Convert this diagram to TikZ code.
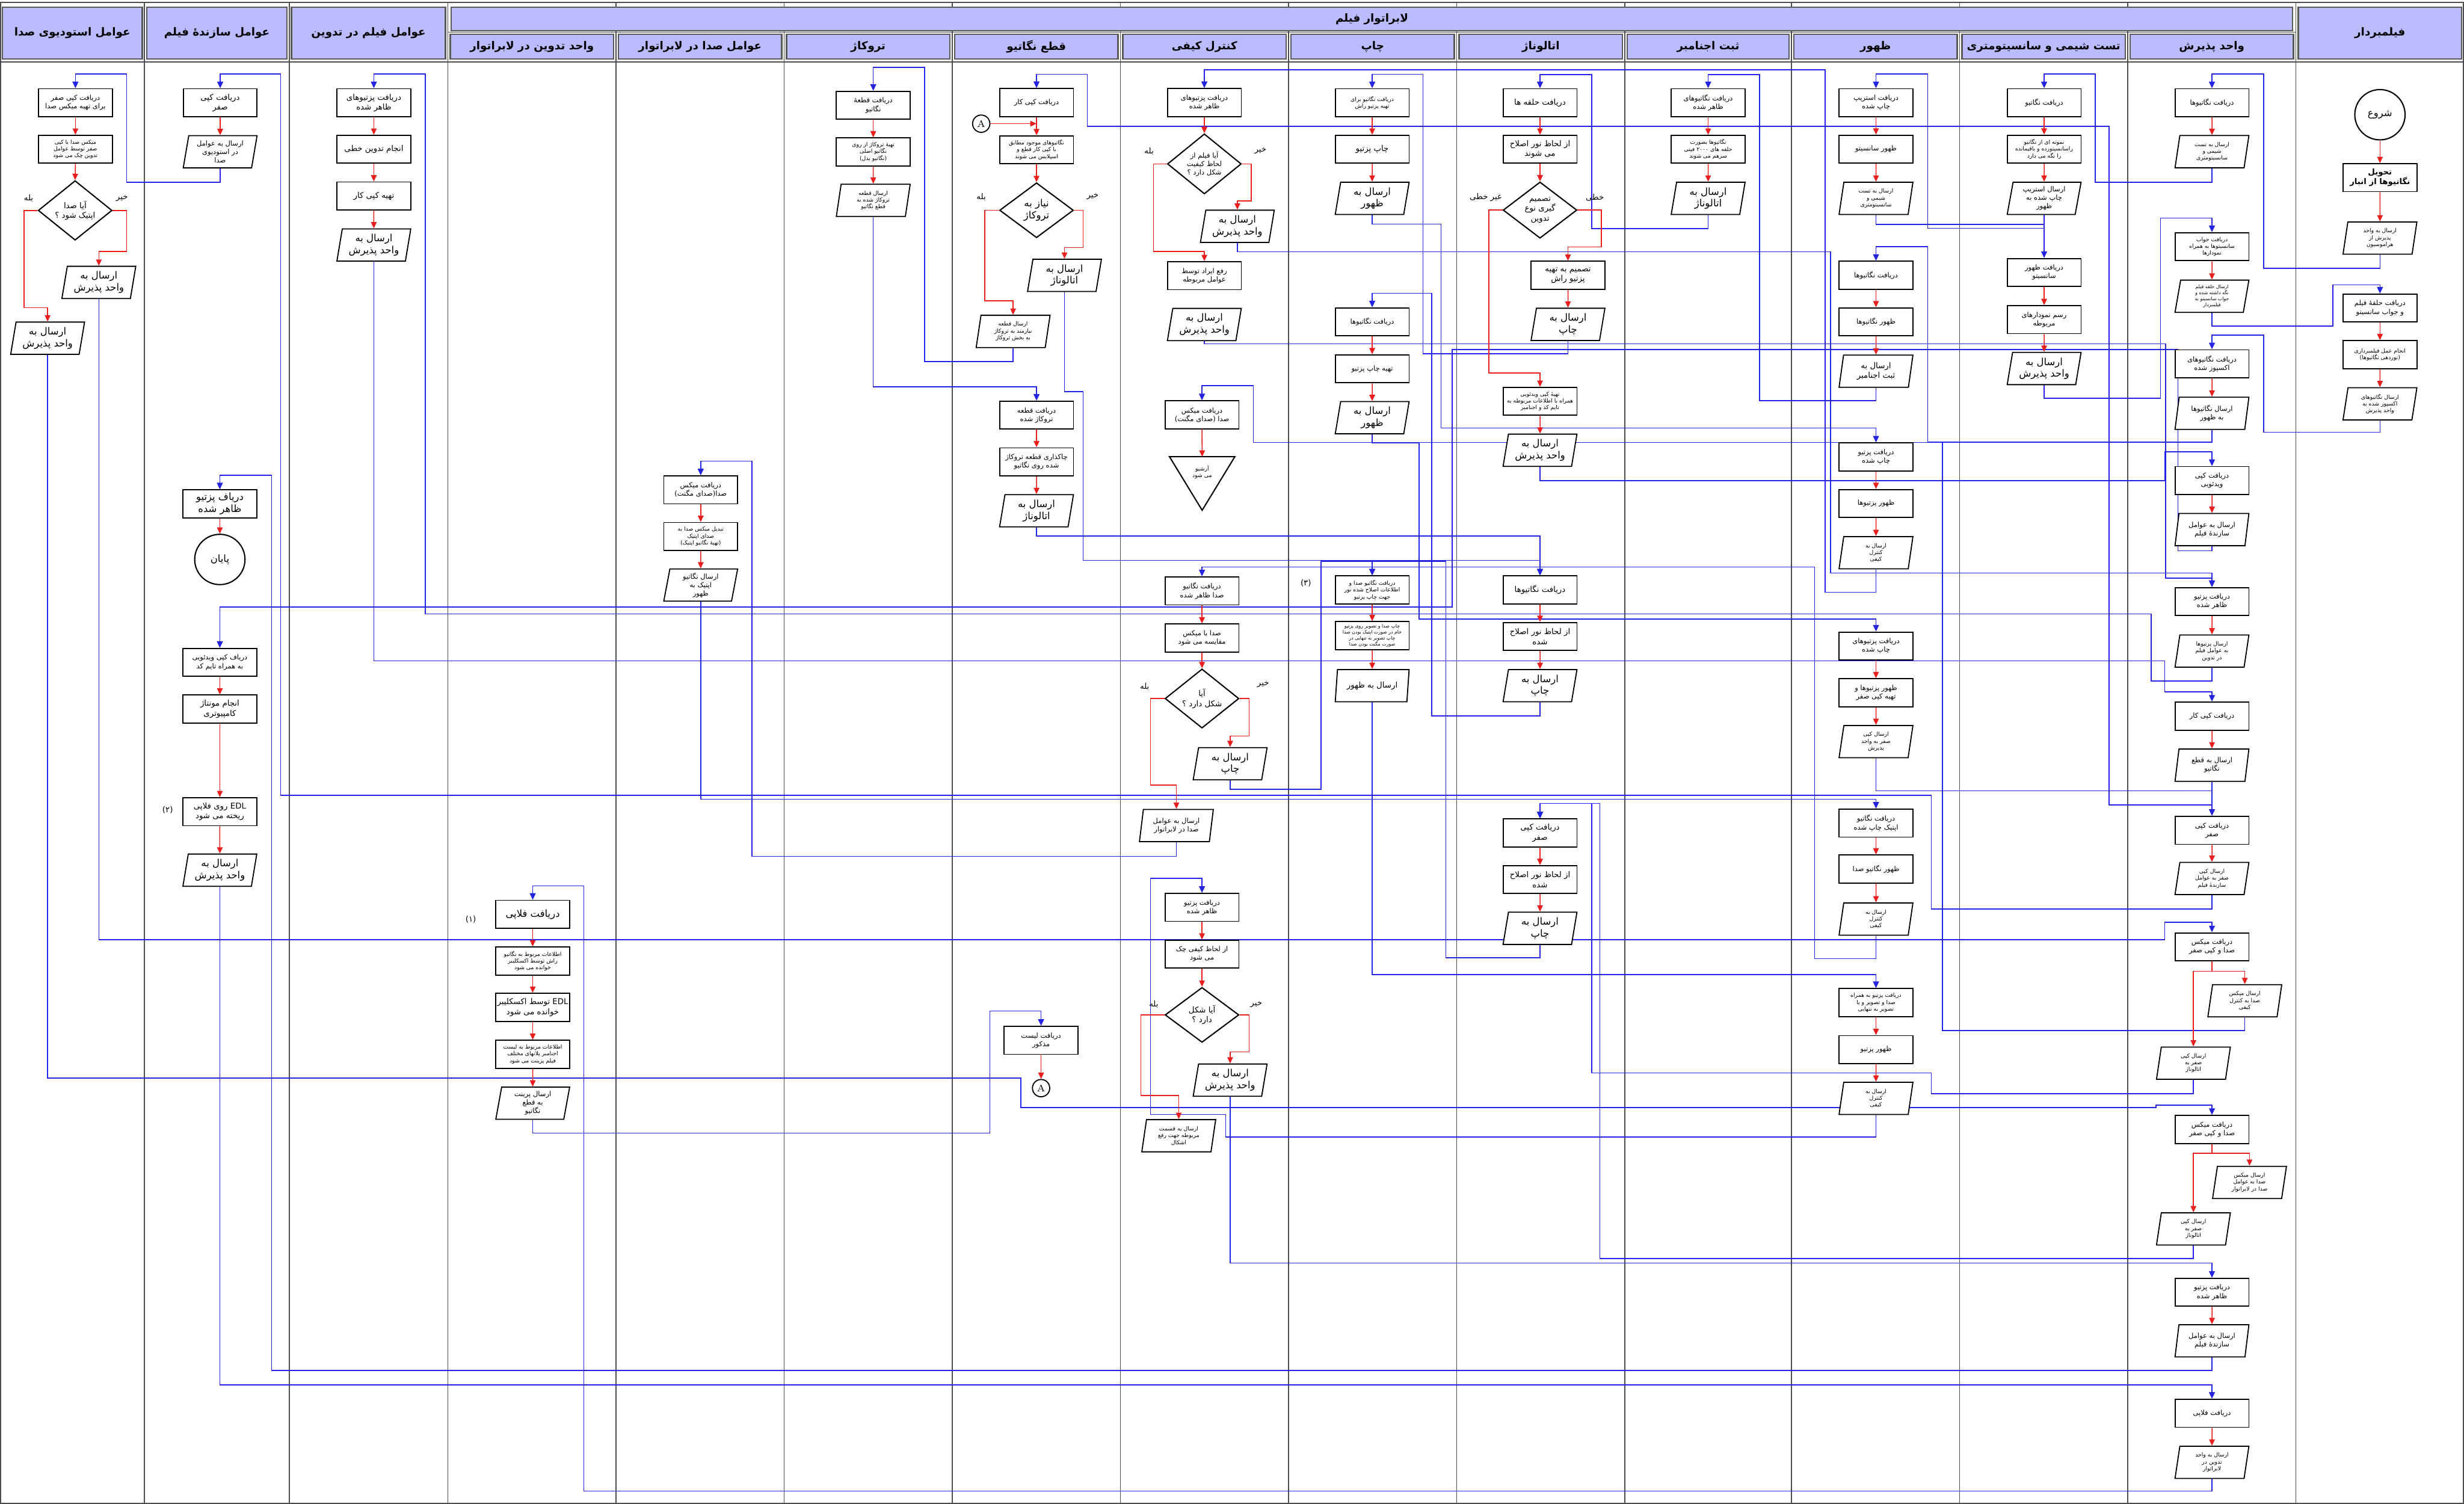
\documentclass[tikz,border=0pt]{standalone}
\usepackage{fontspec}
\newfontfamily\farsi[Script=Arabic]{DejaVu Sans}
\TeXXeTstate=1
\usetikzlibrary{shapes.geometric,arrows.meta,calc}
\newcommand\Rt[1]{\beginR #1\endR}
\newcommand\szH{\fontsize{7}{8.4}\selectfont}
\newcommand\szB{\fontsize{6.3}{7.5}\selectfont}
\newcommand\szM{\fontsize{5.1}{6.3}\selectfont}
\newcommand\szS{\fontsize{4.4}{5.4}\selectfont}
\newcommand\szT{\fontsize{3.55}{4.35}\selectfont}
\newcommand\szX{\fontsize{3}{3.8}\selectfont}
\definecolor{lav}{RGB}{187,187,255}
\definecolor{lblue}{RGB}{35,35,225}
\definecolor{lred}{RGB}{235,30,30}
\pgfdeclarelayer{back}
\pgfdeclarelayer{bg}
\pgfsetlayers{back,bg,main}
\newcommand\fl[4][9]{\draw[bl] (#2.south) #3 |- ($(#4.north)+(0,-#1)$) -- (#4.north);}
\newcommand\rarr[2]{\draw[rd] (#1.south) -- (#2.north);}
\begin{document}
\begin{tikzpicture}[x=1pt,y=-1pt,
  bx/.style={draw, line width=0.7pt, fill=white, minimum width=47pt, minimum height=17.8pt, inner sep=0.5pt, align=center, font=\farsi\szM},
  io/.style={draw, line width=0.7pt, fill=white, trapezium, trapezium left angle=77, trapezium right angle=103, trapezium stretches body, minimum width=47pt, minimum height=20.5pt, inner sep=0.5pt, align=center, font=\farsi\szM},
  dec/.style={draw, line width=0.8pt, fill=white, diamond, minimum width=47pt, minimum height=35pt, inner sep=0pt, align=center, font=\farsi\szM},
  circ/.style={draw, line width=0.8pt, fill=white, circle, minimum size=32pt, inner sep=0pt, font=\farsi\szB},
  acirc/.style={draw, line width=0.7pt, fill=white, circle, minimum size=11pt, inner sep=0pt, font=\rmfamily\fontsize{6}{7}\selectfont},
  lab/.style={inner sep=0pt, font=\farsi\szM},
  hdr/.style={draw=black!65, line width=0.9pt, fill=lav, inner sep=0pt, font=\farsi\bfseries\szH},
  sep/.style={draw=black!70, line width=0.7pt},
  rd/.style={draw=lred, line width=0.6pt, -{Triangle[length=4pt,width=3.6pt]}},
  bl/.style={draw=lblue, line width=0.6pt, -{Triangle[length=4.2pt,width=3.8pt]}}
]
\useasboundingbox (0,0) rectangle (1568,957);
\begin{pgfonlayer}{back}
\fill[white] (0,0) rectangle (1568,957);
\draw[sep] (0.5,1.5) rectangle (1567.5,956.5);
\draw[sep] (0,39.5) -- (1568,39.5);
\draw[sep] (285,20.5) -- (1461,20.5);
\foreach \xx in {92,184,285,392,499,606,713,820,927,1034,1140,1247,1354,1461}
  \draw[sep] (\xx,1.5) -- (\xx,956.5);
\end{pgfonlayer}

% headers
\node[hdr, minimum width=89pt, minimum height=33pt] (hU) at (46,21) {\Rt{عوامل استودیوی صدا}};
\node[hdr, minimum width=89pt, minimum height=33pt] (hM) at (138,21) {\Rt{عوامل سازندهٔ فیلم}};
\node[hdr, minimum width=98pt, minimum height=33pt] (hD) at (234.5,21) {\Rt{عوامل فیلم در تدوین}};
\node[hdr, minimum width=104pt, minimum height=33pt] (hF) at (1514.5,21) {\Rt{فیلمبردار}};
\node[hdr, minimum width=1172pt, minimum height=15pt] (hLab) at (873,12) {\Rt{لابراتوار فیلم}};
\node[hdr, minimum width=104pt, minimum height=15.7pt] (hE) at (338.5,29.6) {\Rt{واحد تدوین در لابراتوار}};
\node[hdr, minimum width=104pt, minimum height=15.7pt] (hL) at (445.5,29.6) {\Rt{عوامل صدا در لابراتوار}};
\node[hdr, minimum width=104pt, minimum height=15.7pt] (hR) at (552.5,29.6) {\Rt{تروکاژ}};
\node[hdr, minimum width=104pt, minimum height=15.7pt] (hQ) at (659.5,29.6) {\Rt{قطع نگاتیو}};
\node[hdr, minimum width=104pt, minimum height=15.7pt] (hK) at (766.5,29.6) {\Rt{کنترل کیفی}};
\node[hdr, minimum width=104pt, minimum height=15.7pt] (hC) at (873.5,29.6) {\Rt{چاپ}};
\node[hdr, minimum width=104pt, minimum height=15.7pt] (hA) at (980.5,29.6) {\Rt{اتالوناژ}};
\node[hdr, minimum width=103pt, minimum height=15.7pt] (hS) at (1087,29.6) {\Rt{ثبت اجنامبر}};
\node[hdr, minimum width=104pt, minimum height=15.7pt] (hZ) at (1193.5,29.6) {\Rt{ظهور}};
\node[hdr, minimum width=104pt, minimum height=15.7pt] (hT) at (1300.5,29.6) {\Rt{تست شیمی و سانسیتومتری}};
\node[hdr, minimum width=104pt, minimum height=15.7pt] (hP) at (1407.5,29.6) {\Rt{واحد پذیرش}};

% ===== column U: studio
\node[bx,font=\farsi\szS] (U1) at (48,65.4) {\Rt{دریافت کپی صفر}\\\Rt{برای تهیه میکس صدا}};
\node[bx,font=\farsi\szT] (U2) at (48,95) {\Rt{میکس صدا با کپی}\\\Rt{صفر توسط عوامل}\\\Rt{تدوین چک می شود}};
\node[dec] (U3) at (47.8,133.9) {\Rt{آیا صدا}\\\Rt{اپتیک شود ؟}};
\node[io,font=\farsi\szB] (U4) at (62.9,179.7) {\Rt{ارسال به}\\\Rt{واحد پذیرش}};
\node[io,font=\farsi\szB] (U5) at (30.3,215.2) {\Rt{ارسال به}\\\Rt{واحد پذیرش}};
\node[lab] (lU1) at (18.2,126) {\Rt{بله}};
\node[lab] (lU2) at (77.6,126) {\Rt{خیر}};

% ===== column M: film makers
\node[bx] (M1) at (140.1,65.4) {\Rt{دریافت کپی}\\\Rt{صفر}};
\node[io,font=\farsi\szS] (M2) at (140.1,96.6) {\Rt{ارسال به عوامل}\\\Rt{در استودیوی}\\\Rt{صدا}};
\node[bx,font=\farsi\szB] (M3) at (139.9,320.6) {\Rt{دریاف پزتیو}\\\Rt{ظاهر شده}};
\node[circ] (M4) at (139.9,356) {\Rt{پایان}};
\node[bx,font=\farsi\szS] (M5) at (139.9,421.5) {\Rt{دریاف کپی ویدئویی}\\\Rt{به همراه تایم کد}};
\node[bx] (M6) at (139.9,451.2) {\Rt{انجام مونتاژ}\\\Rt{کامپیوتری}};
\node[bx] (M7) at (139.9,516.5) {\Rt{\beginL EDL\endL{} روی فلاپی}\\\Rt{ریخته می شود}};
\node[lab] (lM7) at (106.7,515.4) {(۲)};
\node[io,font=\farsi\szB] (M8) at (139.9,553.7) {\Rt{ارسال به}\\\Rt{واحد پذیرش}};

% ===== column D: editors
\node[bx] (D1) at (237.9,65.4) {\Rt{دریافت پزتیوهای}\\\Rt{ظاهر شده}};
\node[bx] (D2) at (237.9,95) {\Rt{انجام تدوین خطی}};
\node[bx] (D3) at (237.9,124.7) {\Rt{تهیه کپی کار}};
\node[io,font=\farsi\szB] (D4) at (237.9,155.9) {\Rt{ارسال به}\\\Rt{واحد پذیرش}};

% ===== column E: lab editing
\node[bx,font=\farsi\szB] (E1) at (339,581.8) {\Rt{دریافت فلاپی}};
\node[lab] (lE1) at (299.6,585.1) {(۱)};
\node[bx,font=\farsi\szT] (E2) at (339,611.5) {\Rt{اطلاعات مربوط به نگاتیو}\\\Rt{راش توسط اکسکلیبر}\\\Rt{خوانده می شود}};
\node[bx] (E3) at (339,641) {\Rt{\beginL EDL\endL{} توسط اکسکلیبر}\\\Rt{خوانده می شود}};
\node[bx,font=\farsi\szT] (E4) at (339,670.9) {\Rt{اطلاعات مربوط به لیست}\\\Rt{اجنامبر پلانهای مختلف}\\\Rt{فیلم پرینت می شود}};
\node[io,font=\farsi\szS] (E5) at (339,702) {\Rt{ارسال پرینت}\\\Rt{به قطع}\\\Rt{نگاتیو}};

% ===== column L: lab sound
\node[bx,font=\farsi\szS] (L1) at (445.9,311.7) {\Rt{دریافت میکس}\\\Rt{صدا(صدای مگنت)}};
\node[bx,font=\farsi\szT] (L2) at (445.9,341.4) {\Rt{تبدیل میکس صدا به}\\\Rt{صدای اپتیک}\\\Rt{(تهیهٔ نگاتیو اپتیک)}};
\node[io,font=\farsi\szS] (L3) at (445.9,372.3) {\Rt{ارسال نگاتیو}\\\Rt{اپتیک به}\\\Rt{ظهور}};

% ===== column R: trucage
\node[bx,font=\farsi\szS] (R1) at (555.7,67) {\Rt{دریافت قطعهٔ}\\\Rt{نگاتیو}};
\node[bx,font=\farsi\szT] (R2) at (555.7,96.7) {\Rt{تهیهٔ تروکاژ از روی}\\\Rt{نگاتیو اصلی}\\\Rt{(نگاتیو بدل)}};
\node[io,font=\farsi\szT] (R3) at (555.7,127.5) {\Rt{ارسال قطعه}\\\Rt{تروکاژ شده به}\\\Rt{قطع نگاتیو}};

% ===== column Q: negative cutting
\node[bx,font=\farsi\szS] (Q1) at (659.6,65.3) {\Rt{دریافت کپی کار}};
\node[acirc] (QA) at (624.4,78.7) {A};
\node[bx,font=\farsi\szT] (Q2) at (659.6,95.3) {\Rt{نگاتیوهای موجود مطابق}\\\Rt{با کپی کار قطع و}\\\Rt{اسپلایس می شوند}};
\node[dec,font=\farsi\szB] (Q3) at (659.6,133.8) {\Rt{نیاز به}\\\Rt{تروکاژ}};
\node[lab] (lQ1) at (624.4,125.2) {\Rt{بله}};
\node[lab] (lQ2) at (695.3,125.2) {\Rt{خیر}};
\node[io,font=\farsi\szB] (Q4) at (677.4,175.2) {\Rt{ارسال به}\\\Rt{اتالوناژ}};
\node[io,font=\farsi\szT] (Q5) at (644.7,210.9) {\Rt{ارسال قطعه}\\\Rt{نیازمند به تروکاژ}\\\Rt{به بخش تروکاژ}};
\node[bx,font=\farsi\szS] (Q6) at (659.6,264.2) {\Rt{دریافت قطعه}\\\Rt{تروکاژ شده}};
\node[bx,font=\farsi\szS] (Q7) at (659.6,293.9) {\Rt{چاکذاری قطعه تروکاژ}\\\Rt{شده روی نگاتیو}};
\node[io,font=\farsi\szB] (Q8) at (659.6,325) {\Rt{ارسال به}\\\Rt{اتالوناژ}};
\node[bx,font=\farsi\szS] (Q9) at (662.5,662) {\Rt{دریافت لیست}\\\Rt{مذکور}};
\node[acirc] (QA2) at (662.5,692.4) {A};

% ===== column K: quality control
\node[bx,font=\farsi\szS] (K1) at (766.4,65.3) {\Rt{دریافت پزتیوهای}\\\Rt{ظاهر شده}};
\node[dec,font=\farsi\szS] (K2) at (766.4,104.3) {\Rt{آیا فیلم از}\\\Rt{لحاظ کیفیت}\\\Rt{شکل دارد ؟}};
\node[lab] (lK1) at (731.2,96.1) {\Rt{بله}};
\node[lab] (lK2) at (802.1,96.1) {\Rt{خیر}};
\node[io,font=\farsi\szB] (K3) at (787.4,144) {\Rt{ارسال به}\\\Rt{واحد پذیرش}};
\node[bx,font=\farsi\szS] (K4) at (766.4,175.4) {\Rt{رفع ایراد توسط}\\\Rt{عوامل مربوطه}};
\node[io,font=\farsi\szB] (K5) at (766.4,206.5) {\Rt{ارسال به}\\\Rt{واحد پذیرش}};
\node[bx,font=\farsi\szS] (K6) at (764.9,264) {\Rt{دریافت میکس}\\\Rt{صدا (صدای مگنت)}};
\coordinate (K7) at (765,290.6);
\draw[line width=0.8pt, fill=white] (744.2,290.6) -- (785.8,290.6) -- (765,324.7) -- cycle;
\node[font=\farsi\szT, align=center, inner sep=0pt] (K7t) at (765,300.5) {\Rt{آرشیو}\\\Rt{می شود}};
\node[bx,font=\farsi\szS] (K8) at (764.9,376) {\Rt{دریافت نگاتیو}\\\Rt{صدا ظاهر شده}};
\node[bx,font=\farsi\szS] (K9) at (764.9,406) {\Rt{صدا با میکس}\\\Rt{مقایسه می شود}};
\node[dec] (K10) at (764.9,444.5) {\Rt{آیا}\\\Rt{شکل دارد ؟}};
\node[lab] (lK3) at (728.4,437.1) {\Rt{بله}};
\node[lab] (lK4) at (803.8,435.3) {\Rt{خیر}};
\node[io,font=\farsi\szB] (K11) at (782.8,486) {\Rt{ارسال به}\\\Rt{چاپ}};
\node[io,font=\farsi\szS] (K12) at (748.6,525.3) {\Rt{ارسال به عوامل}\\\Rt{صدا در لابراتوار}};
\node[bx,font=\farsi\szS] (K13) at (764.9,577.4) {\Rt{دریافت پزتیو}\\\Rt{ظاهر شده}};
\node[bx,font=\farsi\szS] (K14) at (764.9,607.1) {\Rt{از لحاظ کیفی چک}\\\Rt{می شود}};
\node[dec] (K15) at (764.9,645.8) {\Rt{آیا شکل}\\\Rt{دارد ؟}};
\node[lab] (lK5) at (734.2,639) {\Rt{بله}};
\node[lab] (lK6) at (799.4,639) {\Rt{خیر}};
\node[io,font=\farsi\szB] (K16) at (782.8,687.3) {\Rt{ارسال به}\\\Rt{واحد پذیرش}};
\node[io,font=\farsi\szT] (K17) at (750.1,722.7) {\Rt{ارسال به قسمت}\\\Rt{مربوطه جهت رفع}\\\Rt{اشکال}};

% ===== column C: printing
\node[bx,font=\farsi\szT] (C1) at (873.2,65.4) {\Rt{دریافت نگاتیو برای}\\\Rt{تهیه پزتیو راش}};
\node[bx] (C2) at (873.2,95) {\Rt{چاپ پزتیو}};
\node[io,font=\farsi\szB] (C3) at (873.2,126.2) {\Rt{ارسال به}\\\Rt{ظهور}};
\node[bx,font=\farsi\szS] (C4) at (873.2,204.8) {\Rt{دریافت نگاتیوها}};
\node[bx,font=\farsi\szS] (C5) at (873.2,234.7) {\Rt{تهیه چاپ پزتیو}};
\node[io,font=\farsi\szB] (C6) at (873.2,265.8) {\Rt{ارسال به}\\\Rt{ظهور}};
\node[lab] (lC7) at (831,371) {(۳)};
\node[bx,font=\farsi\szT] (C7) at (873.2,375.4) {\Rt{دریافت نگاتیو صدا و}\\\Rt{اطلاعات اصلاح شده نور}\\\Rt{جهت چاپ پزتیو}};
\node[bx,font=\farsi\szX] (C8) at (873.2,404.5) {\Rt{چاپ صدا و تصویر روی پزتیو}\\\Rt{خام در صورت اپتیک بودن صدا}\\\Rt{چاپ تصویر به تنهایی در}\\\Rt{صورت مگنت بودن صدا}};
\node[io] (C9) at (873.2,436.3) {\Rt{ارسال به ظهور}};

% ===== column A: grading
\node[bx] (A1) at (980,65.4) {\Rt{دریافت حلقه ها}};
\node[bx] (A2) at (980,95) {\Rt{از لحاظ نور اصلاح}\\\Rt{می شوند}};
\node[dec] (A3) at (980,133.7) {\Rt{تصمیم}\\\Rt{گیری نوع}\\\Rt{تدوین}};
\node[lab] (lA1) at (945.4,125.7) {\Rt{غیر خطی}};
\node[lab] (lA2) at (1014.9,125.7) {\Rt{خطی}};
\node[bx] (A4) at (997.8,175.2) {\Rt{تصمیم به تهیه}\\\Rt{پزتیو راش}};
\node[io,font=\farsi\szB] (A5) at (997.8,206.4) {\Rt{ارسال به}\\\Rt{چاپ}};
\node[bx,font=\farsi\szT] (A6) at (980,255.4) {\Rt{تهیهٔ کپی ویدئویی}\\\Rt{همراه با اطلاعات مربوطه به}\\\Rt{تایم کد و اجنامبر}};
\node[io,font=\farsi\szB] (A7) at (980,286.5) {\Rt{ارسال به}\\\Rt{واحد پذیرش}};
\node[bx] (A8) at (980,375.4) {\Rt{دریافت نگاتیوها}};
\node[bx] (A9) at (980,405) {\Rt{از لحاظ نور اصلاح}\\\Rt{شده}};
\node[io,font=\farsi\szB] (A10) at (980,436.3) {\Rt{ارسال به}\\\Rt{چاپ}};
\node[bx] (A11) at (980,530) {\Rt{دریافت کپی}\\\Rt{صفر}};
\node[bx] (A12) at (980,559.7) {\Rt{از لحاظ نور اصلاح}\\\Rt{شده}};
\node[io,font=\farsi\szB] (A13) at (980,590.7) {\Rt{ارسال به}\\\Rt{چاپ}};

% ===== column S: edge numbering
\node[bx,font=\farsi\szS] (S1) at (1087,65.4) {\Rt{دریافت نگاتیوهای}\\\Rt{ظاهر شده}};
\node[bx,font=\farsi\szT] (S2) at (1087,95) {\Rt{نگاتیوها بصورت}\\\Rt{حلقه های \beginL ۲۰۰۰\endL{} فیتی}\\\Rt{سرهم می شوند}};
\node[io,font=\farsi\szB] (S3) at (1087,126.2) {\Rt{ارسال به}\\\Rt{اتالوناژ}};

% ===== column Z: developing
\node[bx,font=\farsi\szS] (Z1) at (1193.8,65.4) {\Rt{دریافت استریپ}\\\Rt{چاپ شده}};
\node[bx,font=\farsi\szS] (Z2) at (1193.8,94.9) {\Rt{ظهور سانسیتو}};
\node[io,font=\farsi\szT] (Z3) at (1193.8,126.2) {\Rt{ارسال به تست}\\\Rt{شیمی و}\\\Rt{سانسیتومتری}};
\node[bx,font=\farsi\szS] (Z4) at (1193.8,175.2) {\Rt{دریافت نگاتیوها}};
\node[bx,font=\farsi\szS] (Z5) at (1193.8,204.8) {\Rt{ظهور نگاتیوها}};
\node[io] (Z6) at (1193.8,236.2) {\Rt{ارسال به}\\\Rt{ثبت اجنامبر}};
\node[bx,font=\farsi\szS] (Z7) at (1193.8,290.8) {\Rt{دریافت پزتیو}\\\Rt{چاپ شده}};
\node[bx,font=\farsi\szS] (Z8) at (1193.8,320.4) {\Rt{ظهور پزتیوها}};
\node[io,font=\farsi\szT] (Z9) at (1193.8,351.7) {\Rt{ارسال به}\\\Rt{کنترل}\\\Rt{کیفی}};
\node[bx,font=\farsi\szS] (Z10) at (1193.8,411.1) {\Rt{دریافت پزتیوهای}\\\Rt{چاپ شده}};
\node[bx,font=\farsi\szS] (Z11) at (1193.8,440.8) {\Rt{ظهور پزتیوها و}\\\Rt{تهیه کپی صفر}};
\node[io,font=\farsi\szT] (Z12) at (1193.8,471.9) {\Rt{ارسال کپی}\\\Rt{صفر به واحد}\\\Rt{پذیرش}};
\node[bx,font=\farsi\szS] (Z13) at (1193.8,523.8) {\Rt{دریافت نگاتیو}\\\Rt{اپتیک چاپ شده}};
\node[bx,font=\farsi\szS] (Z14) at (1193.8,553) {\Rt{ظهور نگاتیو صدا}};
\node[io,font=\farsi\szT] (Z15) at (1193.8,584.8) {\Rt{ارسال به}\\\Rt{کنترل}\\\Rt{کیفی}};
\node[bx,font=\farsi\szT] (Z16) at (1193.8,638) {\Rt{دریافت پزتیو به همراه}\\\Rt{صدا و تصویر و یا}\\\Rt{تصویر به تنهایی}};
\node[bx,font=\farsi\szS] (Z17) at (1193.8,667.9) {\Rt{ظهور پزتیو}};
\node[io,font=\farsi\szT] (Z18) at (1193.8,698.9) {\Rt{ارسال به}\\\Rt{کنترل}\\\Rt{کیفی}};

% ===== column T: sensitometry
\node[bx,font=\farsi\szS] (T1) at (1300.8,65.4) {\Rt{دریافت نگاتیو}};
\node[bx,font=\farsi\szT] (T2) at (1300.8,94.9) {\Rt{نمونه ای از نگاتیو}\\\Rt{راسانسیتوزده و باقیمانده}\\\Rt{را نگه می دارد}};
\node[io,font=\farsi\szS] (T3) at (1300.8,126.2) {\Rt{ارسال استریپ}\\\Rt{چاپ شده به}\\\Rt{ظهور}};
\node[bx,font=\farsi\szS] (T4) at (1300.8,173.4) {\Rt{دریافت ظهور}\\\Rt{سانسیتو}};
\node[bx,font=\farsi\szS] (T5) at (1300.8,203.4) {\Rt{رسم نمودارهای}\\\Rt{مربوطه}};
\node[io,font=\farsi\szB] (T6) at (1300.8,234.5) {\Rt{ارسال به}\\\Rt{واحد پذیرش}};

% ===== column P: reception
\node[bx,font=\farsi\szS] (P1) at (1407.6,65.4) {\Rt{دریافت نگاتیوها}};
\node[io,font=\farsi\szT] (P2) at (1407.6,96.5) {\Rt{ارسال به تست}\\\Rt{شیمی و}\\\Rt{سانسیتومتری}};
\node[bx,font=\farsi\szT] (P3) at (1407.6,157) {\Rt{دریافت جواب}\\\Rt{سانسیتوها به همراه}\\\Rt{نمودارها}};
\node[io,font=\farsi\szX] (P4) at (1407.6,188.5) {\Rt{ارسال حلقه فیلم}\\\Rt{نگه داشته شده و}\\\Rt{جواب سانسیتو به}\\\Rt{فیلمبردار}};
\node[bx,font=\farsi\szS] (P5) at (1407.6,231.5) {\Rt{دریافت نگاتیوهای}\\\Rt{اکسپوز شده}};
\node[io,font=\farsi\szS] (P6) at (1407.6,263) {\Rt{ارسال نگاتیوها}\\\Rt{به ظهور}};
\node[bx,font=\farsi\szS] (P7) at (1407.6,305.8) {\Rt{دریافت کپی}\\\Rt{ویدئویی}};
\node[io,font=\farsi\szS] (P8) at (1407.6,337) {\Rt{ارسال به عوامل}\\\Rt{سازندهٔ فیلم}};
\node[bx,font=\farsi\szS] (P9) at (1407.6,382.8) {\Rt{دریافت پزتیو}\\\Rt{ظاهر شده}};
\node[io,font=\farsi\szT] (P10) at (1407.6,414.3) {\Rt{ارسال پزتیوها}\\\Rt{به عوامل فیلم}\\\Rt{در تدوین}};
\node[bx,font=\farsi\szS] (P11) at (1407.6,455.7) {\Rt{دریافت کپی کار}};
\node[io,font=\farsi\szS] (P12) at (1407.6,486.9) {\Rt{ارسال به قطع}\\\Rt{نگاتیو}};
\node[bx,font=\farsi\szS] (P13) at (1407.6,528.4) {\Rt{دریافت کپی}\\\Rt{صفر}};
\node[io,font=\farsi\szT] (P14) at (1407.6,559) {\Rt{ارسال کپی}\\\Rt{صفر به عوامل}\\\Rt{سازندهٔ فیلم}};
\node[bx,font=\farsi\szS] (P15) at (1407.6,602.5) {\Rt{دریافت میکس}\\\Rt{صدا و کپی صفر}};
\node[io,font=\farsi\szT] (P16) at (1428.5,636.8) {\Rt{ارسال میکس}\\\Rt{صدا به کنترل}\\\Rt{کیفی}};
\node[io,font=\farsi\szT] (P17) at (1395.8,676.5) {\Rt{ارسال کپی}\\\Rt{صفر به}\\\Rt{اتالوناژ}};
\node[bx,font=\farsi\szS] (P18) at (1407.6,718.7) {\Rt{دریافت میکس}\\\Rt{صدا و کپی صفر}};
\node[io,font=\farsi\szT] (P19) at (1431.5,752.4) {\Rt{ارسال میکس}\\\Rt{صدا به عوامل}\\\Rt{صدا در لابراتوار}};
\node[io,font=\farsi\szT] (P20) at (1395.8,782) {\Rt{ارسال کپی}\\\Rt{صفر به}\\\Rt{اتالوناژ}};
\node[bx,font=\farsi\szS] (P21) at (1407.6,822.3) {\Rt{دریافت پزتیو}\\\Rt{ظاهر شده}};
\node[io,font=\farsi\szS] (P22) at (1407.6,853.2) {\Rt{ارسال به عوامل}\\\Rt{سازندهٔ فیلم}};
\node[bx,font=\farsi\szS] (P23) at (1407.6,899.3) {\Rt{دریافت فلاپی}};
\node[io,font=\farsi\szT] (P24) at (1407.6,930.5) {\Rt{ارسال به واحد}\\\Rt{تدوین در}\\\Rt{لابراتوار}};

% ===== column F: cameraman
\node[circ] (F0) at (1514.5,73) {\Rt{شروع}};
\node[bx,font=\farsi\bfseries\szM] (F1) at (1514.5,113) {\Rt{تحویل}\\\Rt{نگاتیوها از انبار}};
\node[io,font=\farsi\szT] (F2) at (1514.5,151.5) {\Rt{ارسال به واحد}\\\Rt{پذیرش از}\\\Rt{هراموسیون}};
\node[bx,font=\farsi\szS] (F3) at (1514.5,196) {\Rt{دریافت حلقهٔ فیلم}\\\Rt{و جواب سانسیتو}};
\node[bx,font=\farsi\szT] (F4) at (1514.5,225.7) {\Rt{انجام عمل فیلمبرداری}\\\Rt{(نوردهی نگاتیوها)}};
\node[io,font=\farsi\szT] (F5) at (1514.5,257) {\Rt{ارسال نگاتیوهای}\\\Rt{اکسپوز شده به}\\\Rt{واحد پذیرش}};

% ===== red flow arrows
\rarr{F0}{F1}\rarr{F1}{F2}\rarr{F3}{F4}\rarr{F4}{F5}
\rarr{P1}{P2}\rarr{P3}{P4}\rarr{P5}{P6}\rarr{P7}{P8}\rarr{P9}{P10}\rarr{P11}{P12}
\rarr{P13}{P14}\rarr{P21}{P22}\rarr{P23}{P24}
\draw[rd] (P15.south) -- ++(0,6.3) -| (P16.north);
\draw[rd] (P15.south) -- ++(0,6.3) -| (P17.north);
\draw[rd] (P18.south) -- ++(0,5.8) -| (P19.north);
\draw[rd] (P18.south) -- ++(0,5.8) -| (P20.north);
\rarr{T1}{T2}\rarr{T2}{T3}\rarr{T4}{T5}\rarr{T5}{T6}
\rarr{Z1}{Z2}\rarr{Z2}{Z3}\rarr{Z4}{Z5}\rarr{Z5}{Z6}\rarr{Z7}{Z8}\rarr{Z8}{Z9}
\rarr{Z10}{Z11}\rarr{Z11}{Z12}\rarr{Z13}{Z14}\rarr{Z14}{Z15}\rarr{Z16}{Z17}\rarr{Z17}{Z18}
\rarr{S1}{S2}\rarr{S2}{S3}
\rarr{A1}{A2}\rarr{A2}{A3}\rarr{A4}{A5}\rarr{A6}{A7}\rarr{A8}{A9}\rarr{A9}{A10}\rarr{A11}{A12}\rarr{A12}{A13}
\draw[rd] (A3.west) -| (947.5,237.3) -| (A6.north);
\draw[rd] (A3.east) -| (1019,157.2) -| (A4.north);
\rarr{C1}{C2}\rarr{C2}{C3}\rarr{C4}{C5}\rarr{C5}{C6}\rarr{C7}{C8}\rarr{C8}{C9}
\rarr{K1}{K2}\draw[rd] (K6.south) -- (K7);
\rarr{K8}{K9}\rarr{K9}{K10}\rarr{K13}{K14}\rarr{K14}{K15}
\draw[rd] (K2.west) -| (734.1,160) -| (K4.north);
\draw[rd] (K2.east) -| (796.3,127.8) -| (K3.north);
\draw[rd] (K10.west) -| (732.2,499.6) -| (K12.north);
\draw[rd] (K10.east) -| (794.9,468.3) -| (K11.north);
\draw[rd] (K15.west) -| (726,697) -| (K17.north);
\draw[rd] (K15.east) -| (794.9,669.3) -| (K16.north);
\rarr{Q1}{Q2}\rarr{Q2}{Q3}\rarr{Q6}{Q7}\rarr{Q7}{Q8}\rarr{Q9}{QA2}
\draw[rd] (QA.east) -- (QA.east -| Q1.south);
\draw[rd] (Q3.west) -| (626.7,191.5) -| (Q5.north);
\draw[rd] (Q3.east) -| (689.2,157.6) -| (Q4.north);
\rarr{R1}{R2}\rarr{R2}{R3}
\rarr{L1}{L2}\rarr{L2}{L3}
\rarr{E1}{E2}\rarr{E2}{E3}\rarr{E3}{E4}\rarr{E4}{E5}
\rarr{D1}{D2}\rarr{D2}{D3}\rarr{D3}{D4}
\rarr{M1}{M2}\rarr{M3}{M4}\rarr{M5}{M6}\rarr{M6}{M7}\rarr{M7}{M8}
\rarr{U1}{U2}\rarr{U2}{U3}
\draw[rd] (U3.west) -| (15.4,195.8) -| (U5.north);
\draw[rd] (U3.east) -| (80.5,160) -| (U4.north);

% ===== blue flows between lanes
\begin{pgfonlayer}{bg}
\fl{F2}{|- (1440.4,170.7)}{P1}
\fl{P2}{|- (1333.4,115.9)}{T1}
\fl{T3}{|- (1226.7,145.2)}{Z1}
\draw[bl] (Z3.south) -- ++(0,6) -| (T4.north);
\fl{T6}{|- (1374.9,253.5)}{P3}
\fl[5.5]{P4}{|- (1484.6,207.4)}{F3}
\fl{F5}{|- (1440.4,275)}{P5}
\fl{P6}{|- (1226.7,281.3)}{Z4}
\fl[11.6]{Z9}{|- (1161.5,376.9)}{K1}
\fl[8.7]{P12}{|- (1342.2,512.3) |- (692,80.5)}{Q1}
\draw[bl] (Z12.south) |- ($(P13.north)+(0,-16)$) -- (P13.north);
\fl{K3}{|- (1164.8,160.2)}{P9}
\fl[5.7]{K5}{|- (1378,218.8)}{P9}
\fl[25.9]{P8}{|- (1386,350.5) |- (924,222.5)}{M5}
\fl[6.3]{U4}{|- (1377.6,598)}{P15}
\fl[6.3]{U5}{|- (649.6,686) |- (1372,704.8)}{P18}
\fl{M2}{|- (80.5,115.9)}{U1}
\fl[6.3]{D4}{|- (1377.6,420.6)}{P11}
\draw[bl] (M8.south) |- ($(P23.north)+(0,-8.8)$) -- (P23.north);
\fl{A7}{|- (1377.6,305.9)}{P7}
\draw[bl] (K16.south) |- ($(P21.north)+(0,-9.4)$) -- (P21.north);
\fl[6]{Z15}{|- (1154.8,610)}{K8}
\fl[9.2]{Z18}{|- (779.9,723.5) |- (732.2,709.2)}{K13}
\fl{K11}{|- (840.6,502.2)}{C7}
\fl[8.9]{A10}{|- (911,455.6)}{C4}
\fl[9.1]{C3}{|- (917,142.6)}{Z7}
\fl{A13}{|- (920,609.5)}{C7}
\fl[9.5]{Q4}{|- (689.2,249.2)}{A8}
\draw[bl] (Q8.south) |- ($(A8.north)+(0,-25)$) -- (A8.north);
\draw[bl] (L3.south) |- ($(Z13.north)+(0,-6)$) -- (Z13.north);
\fl[9.3]{P16}{|- (1236,655.8) |- (797.6,281.6)}{K6}
\fl[9.5]{P17}{|- (1229,696) |- (1012.9,682.8)}{A11}
\fl[9.5]{P20}{|- (1018,800.8)}{A11}
\fl{K12}{|- (478.6,545)}{L1}
\fl[9.1]{P10}{|- (1369,433.3) |- (270.7,390.6)}{D1}
\fl{P22}{|- (172.9,872)}{M3}
\fl[8.8]{P24}{|- (371.5,948.8)}{E1}
\fl{P14}{|- (1229,578.5) |- (178.6,506)}{M1}
\fl[9.5]{E5}{|- (629.9,721)}{Q9}
\fl[14.9]{Q5}{|- (588.3,230)}{R1}
\draw[bl] (R3.south) |- ($(Q6.north)+(0,-8.9)$) -- (Q6.north);
\fl[8]{C6}{|- (903.1,282)}{Z10}
\draw[bl] (C9.south) |- ($(Z16.north)+(0,-8.5)$) -- (Z16.north);
\fl[8.7]{Z6}{|- (1119.7,254.9)}{S1}
\fl[8.7]{S3}{|- (1012.9,145.5)}{A1}
\fl[8.8]{A5}{|- (905.6,225.1)}{C1}
\end{pgfonlayer}
\end{tikzpicture}
\end{document}
